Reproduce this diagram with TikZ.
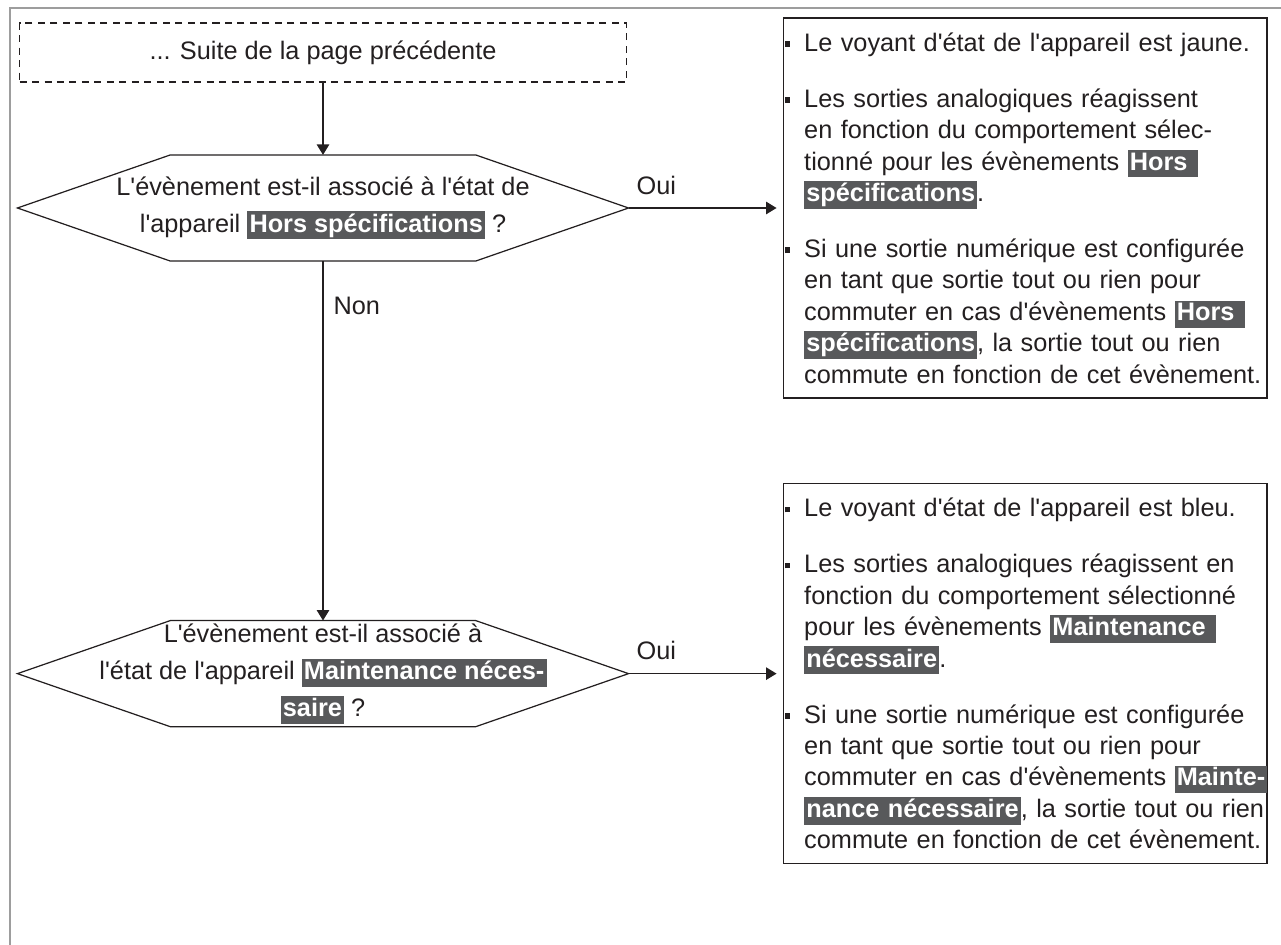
\documentclass[tikz,border=0pt]{standalone}
\usepackage{fontspec}
\setmainfont{Liberation Sans}[Ligatures=TeXOff]
\usetikzlibrary{positioning,calc,arrows.meta}

\definecolor{encre}{HTML}{231F20}
\definecolor{fondgris}{HTML}{58595B}
\definecolor{cadre}{HTML}{9D9D9D}

% texte blanc sur fond gris
\newcommand{\marque}[1]{{\setlength{\fboxsep}{1.2pt}\colorbox{fondgris}{\color{white}\bfseries\vphantom{Hp}#1}}}
% puce carree dans la marge gauche
\newcommand{\puce}{\leavevmode\llap{\rule[2.5pt]{2.8pt}{3.2pt}\hspace{0.29cm}}}

\begin{document}
\begin{tikzpicture}[x=0.02cm, y=-0.02cm, line width=0.7pt, encre,
    font=\fontsize{14.4}{17.9}\selectfont,
    renvoi/.style={draw, dash pattern=on 4pt off 3.1pt, line width=0.6pt,
      minimum width=12.14cm, minimum height=1.18cm, inner sep=0pt},
    decision/.style={minimum width=12.2cm, minimum height=2.1cm, inner sep=0pt,
      align=center, font=\fontsize{14.4}{21}\selectfont},
    etat/.style={draw, line width=0.8pt, text width=9.68cm, inner sep=0pt,
      minimum height=7.6cm, align=left},
    fleche/.style={-{Triangle[length=0.21cm, width=0.25cm]}},
    choix/.style={inner sep=0pt}]
  \useasboundingbox (0,0) rectangle (1281,945);

  % bord de page
  \draw[cadre, line width=1.1pt] (10,945) -- (10,8) -- (1281,8);

  \node[renvoi] (suite) at (323,52.5) {... Suite de la page précédente};

  \node[decision] (q1) at (323,208)
    {L'évènement est-il associé à l'état de\\l'appareil \marque{Hors spécifications} ?};
  \node[decision, below=7.19cm of q1] (q2)
    {L'évènement est-il associé à\\l'état de l'appareil \marque{Maintenance néces-}\\\marque{saire} ?};

  % contours hexagonaux
  \foreach \q in {q1,q2}
    \draw (\q.west) -- ($(\q.north west)+(153,0)$) -- ($(\q.north east)+(-153,0)$)
      -- (\q.east) -- ($(\q.south east)+(-153,0)$) -- ($(\q.south west)+(153,0)$) -- cycle;

  \node[etat, right=3.08cm of q1] (etat1) {\leftskip=0.42cm \rightskip=-0.3cm plus 1fil
    \puce Le voyant d'état de l'appareil est jaune.\\[0.49cm]
    \puce Les sorties analogiques réagissent\\
    en fonction du comportement sélec-\\
    tionné pour les évènements \marque{Hors\ }\\
    \marque{spécifications}.\\[0.49cm]
    \puce Si une sortie numérique est configurée\\
    en tant que sortie tout ou rien pour\\
    commuter en cas d'évènements \marque{Hors\ }\\
    \marque{spécifications}, la sortie tout ou rien\\
    commute en fonction de cet évènement.\par};

  \node[etat, right=3.08cm of q2] (etat2) {\leftskip=0.42cm \rightskip=-0.3cm plus 1fil
    \puce Le voyant d'état de l'appareil est bleu.\\[0.49cm]
    \puce Les sorties analogiques réagissent en\\
    fonction du comportement sélectionné\\
    pour les évènements \marque{Maintenance\ }\\
    \marque{nécessaire}.\\[0.49cm]
    \puce Si une sortie numérique est configurée\\
    en tant que sortie tout ou rien pour\\
    commuter en cas d'évènements \marque{Mainte-}\\
    \marque{nance nécessaire}, la sortie tout ou rien\\
    commute en fonction de cet évènement.\par};

  \draw[fleche] (suite) -- (q1);
  \draw[fleche] (q1) -- node[choix, pos=0.125, right=0.2cm] {Non} (q2);
  \draw[fleche, shorten >=0.12cm] (q1) -- node[choix, pos=0.18, above=0.26cm] {Oui} (etat1);
  \draw[fleche, shorten >=0.12cm] (q2) -- node[choix, pos=0.18, above=0.26cm] {Oui} (etat2);
\end{tikzpicture}
\end{document}
